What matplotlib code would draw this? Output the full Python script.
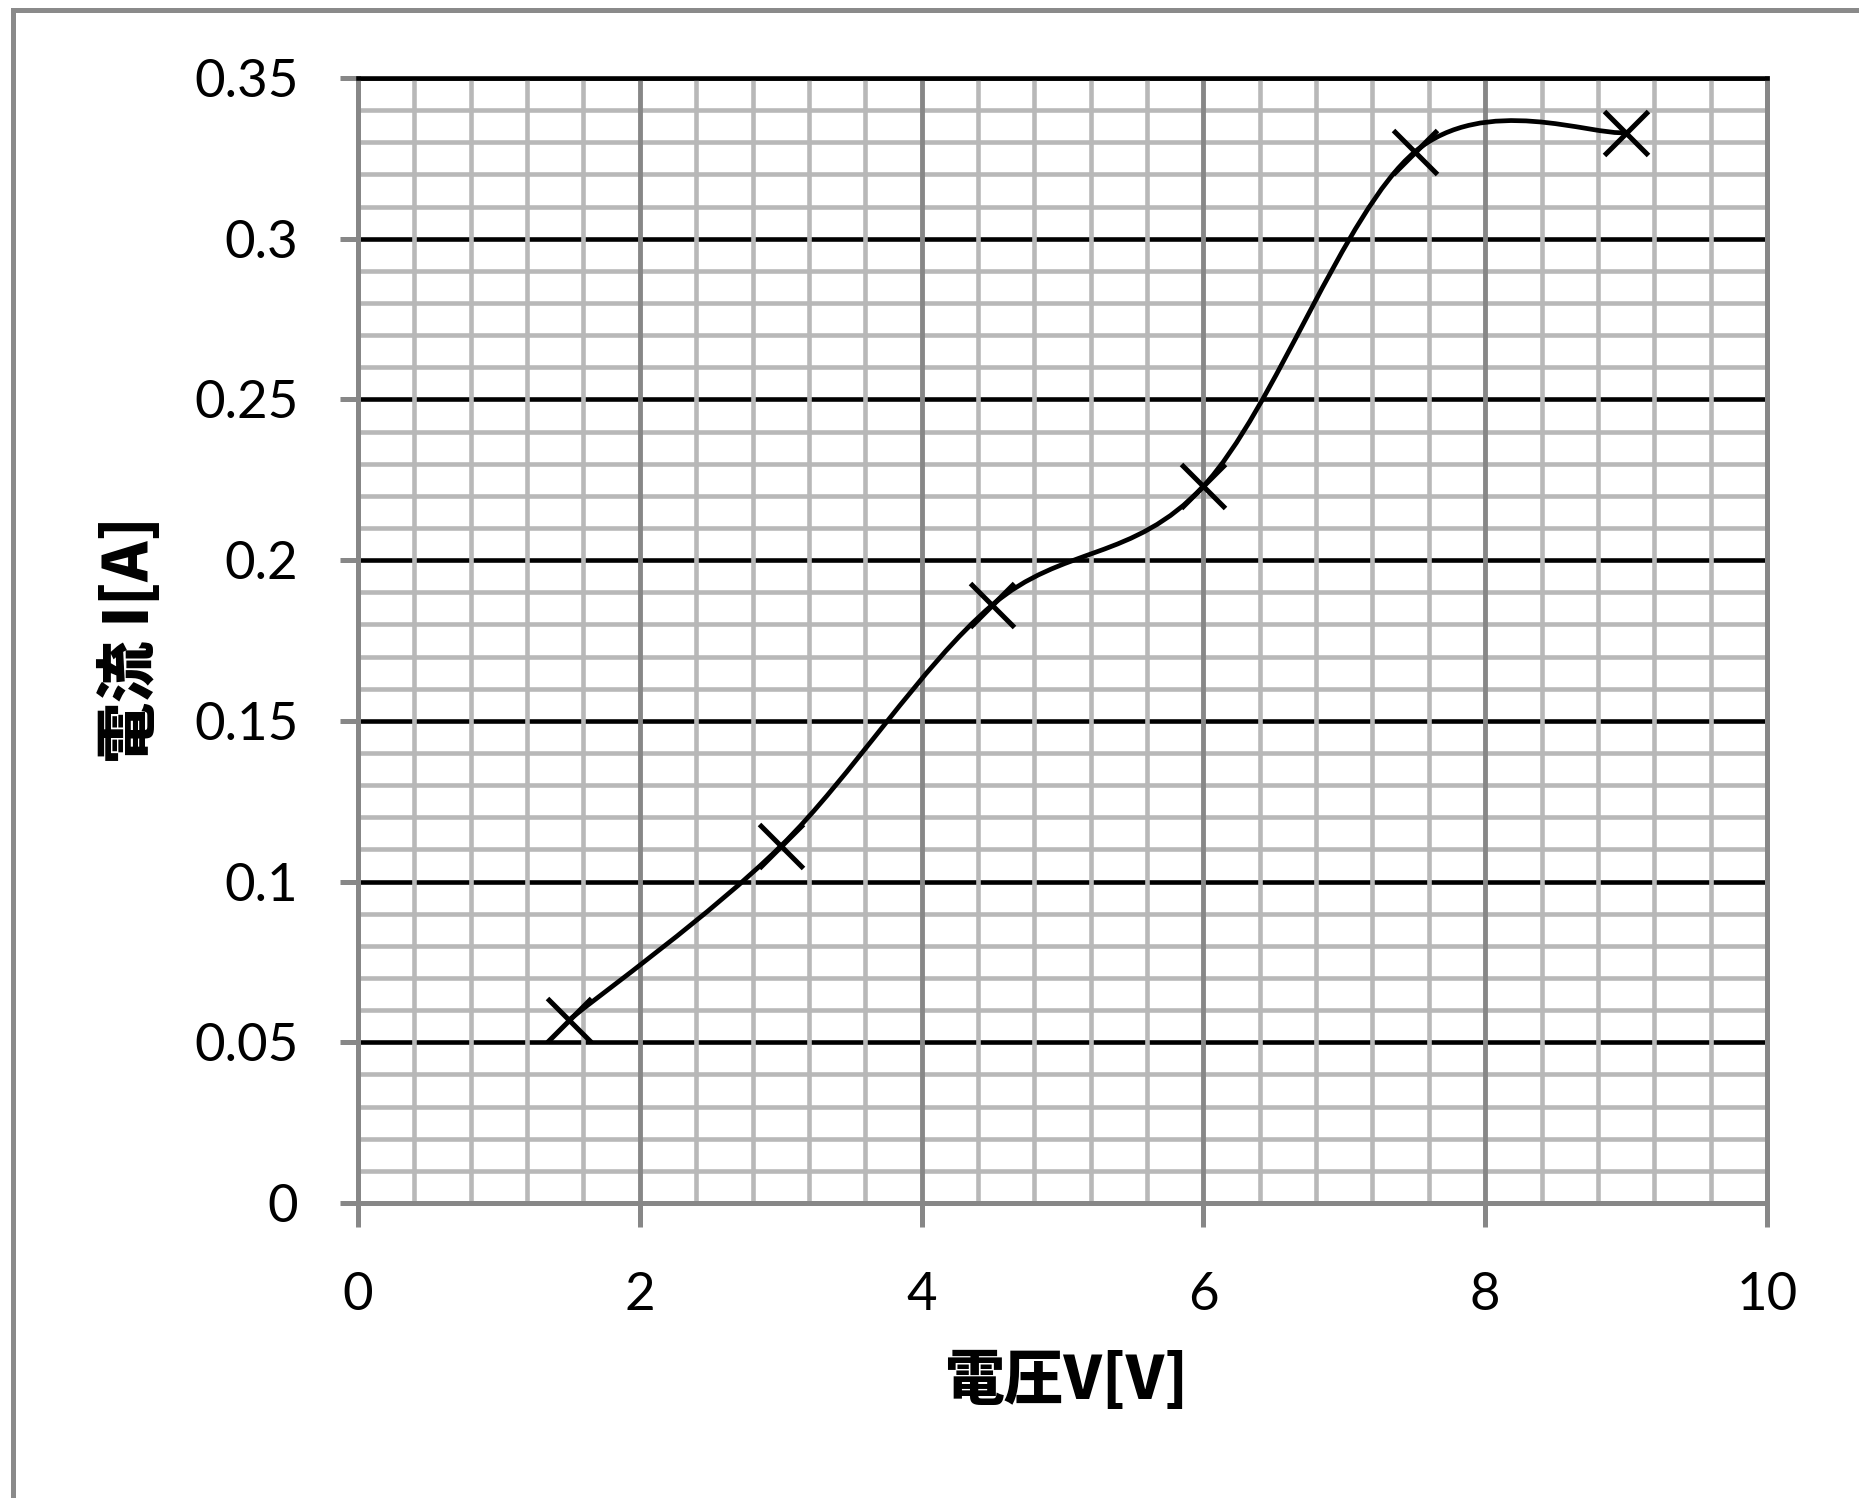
import numpy as np
import matplotlib

matplotlib.use("Agg")
import matplotlib.pyplot as plt
from matplotlib.path import Path
from matplotlib.patches import PathPatch, Rectangle
from matplotlib.ticker import MultipleLocator

# -------------------------
# Measured data
# -------------------------
voltage_v = [1.5, 3.0, 4.5, 6.0, 7.5, 9.0]
current_a = [0.057, 0.111, 0.186, 0.223, 0.327, 0.333]

x_ticks = [0, 2, 4, 6, 8, 10]
y_ticks = [0, 0.05, 0.1, 0.15, 0.2, 0.25, 0.3, 0.35]
y_tick_labels = ["0", "0.05", "0.1", "0.15", "0.2", "0.25", "0.3", "0.35"]

x_label = "電圧V[V]"
y_label = "電流 I[A]"

AXIS_GREY = "#878787"
MINOR_GREY = "#b8b8b8"
LABEL_FONT = ["Lato", "DejaVu Sans"]
CJK_FONT = ["Noto Sans CJK JP", "DejaVu Sans"]


def smooth_path(xs, ys):
    """Catmull-Rom style bezier through the points (spreadsheet 'smoothed line')."""
    pts = np.column_stack([xs, ys]).astype(float)
    padded = np.vstack([pts[0], pts, pts[-1]])
    verts = [pts[0]]
    codes = [Path.MOVETO]
    for i in range(len(pts) - 1):
        p0, p1, p2, p3 = padded[i], padded[i + 1], padded[i + 2], padded[i + 3]
        c1 = p1 + (p2 - p0) / 6.0
        c2 = p2 - (p3 - p1) / 6.0
        verts += [c1, c2, p2]
        codes += [Path.CURVE4] * 3
    return Path(verts, codes)


fig = plt.figure(figsize=(18.59, 14.98), dpi=100)
ax = fig.add_axes([0.19258, 0.19693, 0.75793, 0.75100])

# outer chart frame (only top/left edges fall inside the image)
fig.patches.append(
    Rectangle((12.5 / 1859, -0.2), 1.5, 1 - 9.5 / 1498 + 0.2,
              transform=fig.transFigure, fill=False,
              edgecolor="#8a8a8a", linewidth=3.6)
)

ax.set_xlim(0, 10)
ax.set_ylim(0, 0.35)

ax.set_xticks(x_ticks)
ax.set_xticklabels([str(t) for t in x_ticks])
ax.set_yticks(y_ticks)
ax.set_yticklabels(y_tick_labels)
ax.xaxis.set_minor_locator(MultipleLocator(0.4))
ax.yaxis.set_minor_locator(MultipleLocator(0.01))

# -------------------------
# Grid
# -------------------------
ax.grid(True, which="minor", axis="both", color=MINOR_GREY, linewidth=3.3)
ax.grid(True, which="major", axis="y", color="black", linewidth=3.3)
ax.grid(True, which="major", axis="x", color=AXIS_GREY, linewidth=3.5)
ax.set_axisbelow(True)
ax.yaxis.set_zorder(0.5)
ax.xaxis.set_zorder(0.6)

for side in ["left", "bottom", "right"]:
    ax.spines[side].set_color(AXIS_GREY)
    ax.spines[side].set_linewidth(3.6)
ax.spines["top"].set_color("black")
ax.spines["top"].set_linewidth(3.3)

ax.tick_params(axis="both", which="minor", length=0)
ax.tick_params(axis="y", which="major", direction="out", length=13, width=3.6,
               color=AXIS_GREY, pad=30, labelsize=38, right=False)
ax.tick_params(axis="x", which="major", direction="out", length=17, width=3.6,
               color=AXIS_GREY, pad=33, labelsize=38, top=False)
for lbl in ax.get_xticklabels() + ax.get_yticklabels():
    lbl.set_family(LABEL_FONT)

# -------------------------
# Data: smoothed line + markers
# -------------------------
ax.add_patch(PathPatch(smooth_path(voltage_v, current_a), fill=False,
                       edgecolor="black", linewidth=3.4, zorder=3))
ax.plot(voltage_v, current_a, linestyle="none", marker="x", markersize=32,
        markeredgewidth=3.6, color="black", zorder=4)

# -------------------------
# Axis titles
# -------------------------
fig.text(1066 / 1859, 1 - 1381 / 1498, x_label, ha="center", va="center",
         fontsize=43, fontweight="black", family=CJK_FONT)
fig.text(130 / 1859, 1 - 640 / 1498, y_label, ha="center", va="center",
         rotation=90, fontsize=44, fontweight="black", family=CJK_FONT)

fig.savefig("out.png", dpi=100)
plt.close(fig)
